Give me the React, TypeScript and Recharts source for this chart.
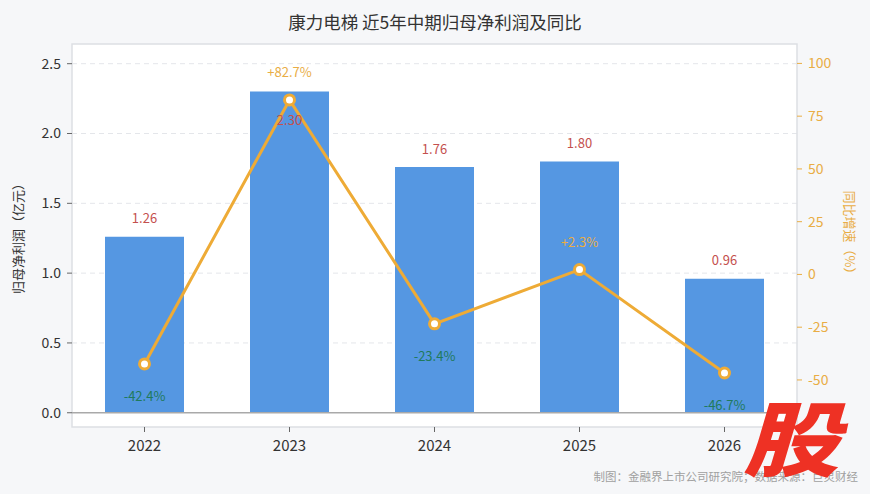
import React from "react";
import {
  ComposedChart,
  Bar,
  Line,
  XAxis,
  YAxis,
  CartesianGrid,
  LabelList,
  ReferenceLine,
  ReferenceArea,
} from "recharts";

const years = ["2022", "2023", "2024", "2025", "2026"];
const profit = [1.26, 2.3, 1.76, 1.8, 0.96];
const yoy = [-42.4, 82.7, -23.4, 2.3, -46.7];
const leftTicks = [0, 0.5, 1.0, 1.5, 2.0, 2.5];
const rightTicks = [-50, -25, 0, 25, 50, 75, 100];

const data = years.map((y, i) => ({ year: y, profit: profit[i], yoy: yoy[i] }));
const maxProfit = Math.max(...profit);

const FONT = '"Noto Sans CJK SC", "Noto Sans", sans-serif';
const ORANGE = "#eeab36";
const ORANGE_TXT = "#e9ad45";
const BAR = "#5597e2";
const RED = "#c4504e";
const GREEN = "#1f7a5c";

const YoyLabel = (props: any) => {
  const { x, y, value } = props;
  const pos = value >= 0;
  const txt = (pos ? "+" : "") + Number(value).toFixed(1) + "%";
  return (
    <text
      x={x}
      y={pos ? y - 28 : y + 32}
      textAnchor="middle"
      dominantBaseline="central"
      fill={pos ? ORANGE_TXT : GREEN}
      fontSize={13}
      fontFamily={FONT}
    >
      {txt}
    </text>
  );
};

const ProfitLabel = (props: any) => {
  const { x, y, width, value } = props;
  // the tallest bar's label sits inside the bar, clear of the YoY label above it
  const inside = Number(value) === maxProfit;
  return (
    <text
      x={x + width / 2}
      y={inside ? y + 28 : y - 19}
      textAnchor="middle"
      dominantBaseline="central"
      fill={RED}
      fontSize={13}
      fontFamily={FONT}
    >
      {Number(value).toFixed(2)}
    </text>
  );
};

export default function App() {
  return (
    <div
      style={{
        position: "absolute",
        left: 0,
        top: 0,
        width: 870,
        height: 494,
        background: "#f6f7f9",
        fontFamily: FONT,
        overflow: "hidden",
      }}
    >
      <div
        style={{
          position: "absolute",
          left: 0,
          top: 9,
          width: 870,
          textAlign: "center",
          fontSize: 17.5,
          color: "#333",
          lineHeight: "26px",
        }}
      >
        康力电梯 近5年中期归母净利润及同比
      </div>
      <ComposedChart
        width={870}
        height={494}
        data={data}
        margin={{ top: 44, right: 13, bottom: 27, left: 12 }}
        style={{ position: "absolute", left: 0, top: 0 }}
      >
        <CartesianGrid
          yAxisId="left"
          vertical={false}
          horizontal={true}
          stroke="#e4e6ea"
          strokeDasharray="5 4"
          fill="#ffffff"
          horizontalValues={leftTicks.slice(1)}
        />
        <ReferenceArea
          yAxisId="left"
          y1={-0.102}
          y2={2.641}
          fill="none"
          stroke="#dde0e4"
          strokeWidth={1.5}
          ifOverflow="visible"
        />
        <XAxis
          dataKey="year"
          axisLine={false}
          tickLine={{ stroke: "#666" }}
          tickSize={5}
          tickMargin={8}
          tick={{ fill: "#333", fontSize: 15, fontFamily: FONT }}
          height={40}
        />
        <YAxis
          yAxisId="left"
          orientation="left"
          domain={[-0.102, 2.641]}
          ticks={leftTicks}
          tickFormatter={(v: number) => v.toFixed(1)}
          axisLine={false}
          tickLine={{ stroke: "#666" }}
          tickSize={5}
          tickMargin={6}
          tick={{ fill: "#333", fontSize: 14, fontFamily: FONT }}
          width={60}
          allowDataOverflow
          label={{
            value: "归母净利润（亿元）",
            angle: -90,
            position: "center",
            dx: -24,
            fill: "#333",
            fontSize: 13,
            fontFamily: FONT,
          }}
        />
        <YAxis
          yAxisId="right"
          orientation="right"
          domain={[-72.3, 109.2]}
          ticks={rightTicks}
          axisLine={false}
          tickLine={{ stroke: ORANGE_TXT }}
          tickSize={5}
          tickMargin={6}
          tick={{ fill: ORANGE_TXT, fontSize: 14, fontFamily: FONT }}
          width={60}
          allowDataOverflow
          label={{
            value: "同比增速（%）",
            angle: 90,
            position: "center",
            dx: 23,
            fill: ORANGE_TXT,
            fontSize: 13,
            fontFamily: FONT,
          }}
        />
        <ReferenceLine yAxisId="left" y={0} stroke="#a9a9a9" strokeWidth={1.5} />
        <Bar
          yAxisId="left"
          dataKey="profit"
          fill={BAR}
          barSize={79}
          isAnimationActive={false}
        >
          <LabelList dataKey="profit" content={ProfitLabel} />
        </Bar>
        <Line
          yAxisId="right"
          dataKey="yoy"
          stroke={ORANGE}
          strokeWidth={3}
          dot={{ r: 5, fill: "#fff", stroke: ORANGE, strokeWidth: 3 }}
          activeDot={false}
          isAnimationActive={false}
        >
          <LabelList dataKey="yoy" content={YoyLabel} />
        </Line>
      </ComposedChart>
      <div
        style={{
          position: "absolute",
          right: 12,
          top: 467,
          fontSize: 11.5,
          color: "#a0a0a0",
          lineHeight: "18px",
          whiteSpace: "nowrap",
        }}
      >
        制图：金融界上市公司研究院；数据来源：巨灵财经
      </div>
      <div
        style={{
          position: "absolute",
          left: 743,
          top: 388,
          fontSize: 96,
          fontWeight: 900,
          fontStyle: "italic",
          color: "#ee3124",
          lineHeight: "110px",
          transform: "scaleY(0.85)",
          transformOrigin: "top left",
        }}
      >
        股
      </div>
    </div>
  );
}
